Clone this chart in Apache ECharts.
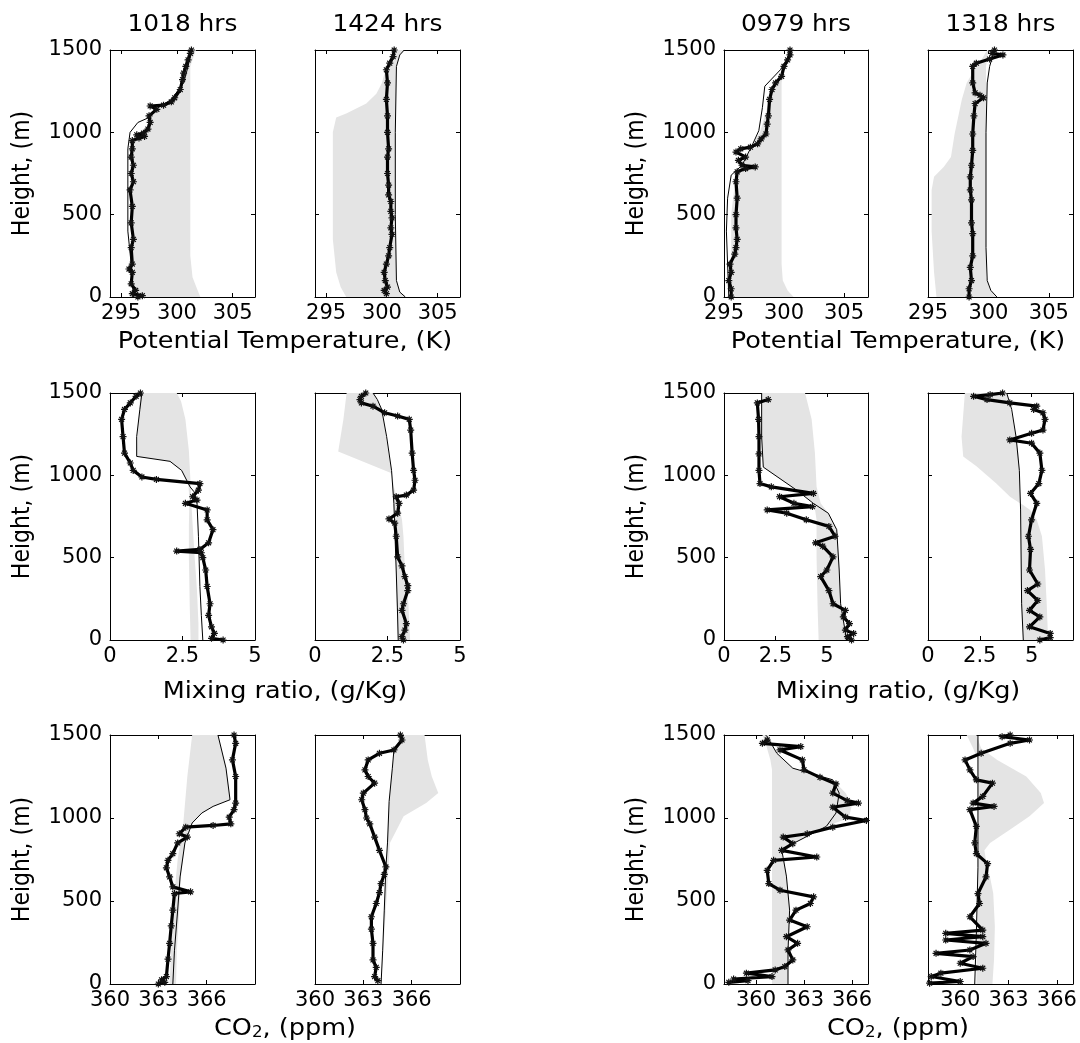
<!DOCTYPE html>
<html><head><meta charset="utf-8">
<script src="https://cdn.jsdelivr.net/npm/echarts@6/dist/echarts.min.js"></script>
<style>html,body{margin:0;padding:0;background:#fff}#c{width:1080px;height:1043px}</style>
</head><body><div id="c"></div>
<script>
// ---------- text / ticks ----------
const titles = ['1018 hrs', '1424 hrs', '0979 hrs', '1318 hrs'];
const xNames = ['Potential Temperature, (K)', 'Mixing ratio, (g/Kg)', 'CO{s|2}, (ppm)'];
const yName = 'Height, (m)';
const heightTicks = [0, 500, 1000, 1500];
const thetaTicks = [295, 300, 305];
const mixTicks = [0, 2.5, 5];
const co2Ticks = [360, 363, 366];

// ---------- Row 1: potential temperature (K) vs height (m) ----------
const th1018Obs = [[296.5,0],[296.9,8],[296.0,20],[296.3,40],[295.9,80],[296.0,150],[295.7,170],[296.0,200],[295.9,300],[296.1,350],[295.9,450],[296.0,550],[295.8,650],[296.1,700],[295.9,750],[296.1,800],[295.9,850],[296.0,900],[296.0,950],[296.6,965],[297.1,975],[296.4,985],[297.0,995],[297.4,1020],[297.6,1060],[297.5,1100],[298.2,1140],[297.6,1160],[298.8,1165],[299.5,1185],[299.8,1210],[300.3,1260],[300.5,1320],[300.6,1360],[300.8,1400],[301.0,1440],[301.2,1480],[301.3,1500]];
const th1018Model = [[296.1,0],[295.9,200],[295.6,400],[295.6,900],[295.8,1000],[296.5,1060],[297.5,1090],[298.3,1150],[299.5,1200],[300.6,1300],[301.0,1400],[301.3,1500]];
const th1018BandL = [[296.1,0],[296.0,950],[296.8,1000],[297.6,1050],[297.8,1120],[299.0,1170],[300.0,1230],[300.5,1300],[300.9,1400],[301.3,1500]];
const th1018BandR = [[302.1,0],[301.8,50],[301.4,120],[301.2,250],[301.2,1400],[301.7,1500]];

const th1424Obs = [[300.4,20],[300.2,40],[300.5,60],[300.3,100],[300.2,150],[300.4,200],[300.6,250],[300.7,300],[300.9,380],[300.8,420],[300.9,480],[300.8,520],[300.8,580],[300.6,620],[300.6,680],[300.5,750],[300.5,850],[300.6,900],[300.5,1000],[300.5,1100],[300.4,1200],[300.5,1300],[300.4,1380],[300.7,1420],[301.0,1460],[301.1,1500]];
const th1424Model = [[302.1,0],[301.6,30],[301.3,100],[301.2,500],[301.2,1000],[301.3,1400],[301.6,1470],[302.0,1500]];
const th1424BandL = [[296.8,0],[296.3,60],[295.9,150],[295.6,350],[295.6,1000],[295.9,1090],[296.8,1115],[298.6,1175],[299.5,1235],[300.0,1300],[300.4,1400],[300.9,1480],[301.0,1500]];
const th1424BandR = [[302.1,0],[301.6,30],[301.3,100],[301.2,500],[301.2,1000],[301.3,1400],[301.6,1470],[302.0,1500]];

const th0979Obs = [[295.6,0],[295.6,50],[295.4,100],[295.6,150],[295.5,200],[295.9,260],[296.0,300],[296.1,350],[296.0,420],[296.0,500],[296.1,600],[296.0,700],[296.1,760],[296.8,780],[297.6,790],[296.5,800],[296.2,830],[296.8,850],[296.0,880],[296.4,900],[297.2,910],[297.8,930],[298.1,960],[298.5,990],[298.6,1050],[298.7,1100],[298.8,1200],[299.0,1260],[299.3,1300],[299.8,1340],[300.0,1400],[300.3,1440],[300.5,1470],[300.5,1500]];
const th0979Model = [[295.4,0],[295.3,200],[295.2,400],[295.3,600],[295.6,740],[296.5,800],[297.4,930],[297.9,1010],[298.2,1150],[298.4,1280],[299.7,1380],[300.3,1450],[300.5,1500]];
const th0979BandL = [[295.6,0],[295.6,500],[296.0,750],[296.6,810],[297.4,930],[298.0,1000],[298.6,1150],[299.3,1300],[300.0,1400],[300.5,1500]];
const th0979BandR = [[300.8,0],[300.3,40],[299.9,100],[299.8,200],[299.8,1300],[300.0,1400],[300.4,1500]];

const th1318Obs = [[298.4,0],[298.4,50],[298.6,100],[298.5,180],[298.7,250],[298.7,385],[298.6,450],[298.6,590],[298.5,650],[298.5,730],[298.6,800],[298.7,890],[298.7,990],[298.8,1100],[298.9,1175],[299.6,1210],[299.3,1225],[298.9,1240],[298.7,1300],[298.7,1400],[299.0,1420],[300.1,1445],[301.2,1470],[300.3,1480],[300.5,1500]];
const th1318Model = [[300.7,0],[300.2,40],[299.9,100],[299.8,300],[299.8,1000],[299.9,1300],[300.1,1400],[300.5,1500]];
const th1318BandL = [[295.7,0],[295.5,150],[295.3,400],[295.3,650],[295.5,730],[296.3,790],[296.9,850],[297.2,990],[297.8,1200],[298.2,1300],[299.0,1400],[299.5,1450],[299.9,1500]];
const th1318BandR = [[300.6,0],[300.1,50],[299.8,120],[299.8,1400],[300.0,1500]];

// ---------- Row 2: mixing ratio (g/Kg) ----------
const mx1018Obs = [[3.9,0],[3.5,10],[3.6,40],[3.5,80],[3.4,150],[3.45,220],[3.35,325],[3.3,425],[3.2,500],[3.15,530],[2.3,540],[3.1,550],[3.4,590],[3.55,670],[3.35,730],[3.35,790],[2.6,830],[3.0,850],[2.85,870],[3.05,910],[3.1,950],[1.6,975],[1.1,990],[0.8,1030],[0.7,1075],[0.5,1135],[0.45,1235],[0.4,1340],[0.5,1400],[0.7,1440],[0.9,1480],[1.05,1500]];
const mx1018Model = [[3.2,0],[3.15,150],[3.1,325],[3.05,630],[3.0,830],[2.9,900],[2.76,930],[2.47,1030],[2.07,1085],[0.92,1115],[0.92,1235],[1.03,1400],[1.1,1500]];
const mx1018BandL = [[2.78,0],[2.75,200],[2.72,500],[2.72,700],[2.74,850],[2.7,950],[2.47,1030],[2.07,1085],[0.92,1115],[0.95,1250],[1.0,1400],[1.05,1500]];
const mx1018BandR = [[3.05,0],[3.05,100],[3.0,300],[2.92,500],[2.85,700],[2.8,850],[2.78,950],[2.72,1150],[2.6,1340],[2.45,1450],[2.3,1500]];

const mx1424Obs = [[3.05,0],[3.0,20],[3.1,60],[3.15,100],[3.0,180],[3.05,220],[3.2,300],[3.2,330],[3.1,385],[3.0,450],[2.85,505],[2.8,630],[2.75,710],[2.55,735],[2.85,770],[2.9,830],[2.8,870],[3.15,880],[3.4,910],[3.45,970],[3.4,1030],[3.35,1135],[3.3,1275],[3.25,1340],[2.85,1360],[2.4,1380],[2.0,1420],[1.6,1440],[1.55,1460],[1.6,1480],[1.75,1500]];
const mx1424Model = [[2.87,0],[2.84,200],[2.8,425],[2.76,630],[2.72,830],[2.64,1030],[2.47,1235],[2.3,1400],[2.15,1460],[2.0,1500]];
const mx1424BandL = [[2.85,0],[2.82,200],[2.78,500],[2.72,800],[2.65,1000],[2.6,1015],[0.8,1145],[0.98,1340],[1.09,1500]];
const mx1424BandR = [[3.28,0],[3.22,220],[3.1,425],[3.05,630],[3.0,730],[2.87,830],[2.72,930],[2.65,1015],[2.53,1135],[2.36,1340],[2.25,1420],[2.0,1500]];

const mx0979Obs = [[6.2,0],[6.0,20],[6.3,40],[5.9,60],[6.1,100],[5.8,140],[5.9,180],[5.3,220],[5.1,300],[4.7,385],[5.0,425],[5.3,505],[4.8,570],[4.45,590],[5.4,630],[5.1,690],[4.0,730],[3.05,770],[2.1,790],[4.3,810],[3.4,830],[2.7,870],[4.35,890],[2.3,930],[1.75,950],[1.7,1030],[1.7,1130],[1.7,1235],[1.68,1340],[1.62,1440],[2.15,1460]];
const mx0979Model = [[5.96,0],[5.67,220],[5.6,425],[5.48,670],[5.07,770],[4.34,830],[3.53,910],[1.91,1050],[1.83,1235],[1.83,1500]];
const mx0979BandL = [[4.6,0],[4.55,200],[4.5,500],[4.5,730],[4.4,810],[4.34,830],[3.53,910],[1.91,1050],[1.83,1235],[1.83,1500]];
const mx0979BandR = [[5.96,0],[5.67,220],[5.6,425],[5.48,670],[5.07,770],[4.7,830],[4.5,930],[4.42,1135],[4.26,1340],[3.94,1500]];

const mx1318Obs = [[5.4,0],[5.9,15],[5.9,40],[4.9,80],[5.4,140],[4.9,180],[5.3,240],[4.8,300],[5.3,340],[4.9,425],[4.95,550],[4.85,630],[5.0,730],[5.25,830],[4.95,890],[5.35,950],[5.5,1030],[5.4,1135],[5.0,1195],[3.95,1215],[5.0,1255],[5.55,1275],[5.65,1340],[5.55,1380],[5.1,1400],[5.25,1420],[3.95,1440],[2.85,1460],[2.2,1480],[3.0,1490],[3.6,1500]];
const mx1318Model = [[4.6,0],[4.52,220],[4.47,790],[4.41,1030],[4.25,1235],[4.04,1400],[3.8,1500]];
const mx1318BandL = [[4.6,0],[4.52,220],[4.48,790],[4.44,830],[3.96,870],[3.3,950],[2.34,1055],[1.7,1115],[1.62,1235],[1.78,1500]];
const mx1318BandR = [[5.8,0],[5.73,220],[5.65,425],[5.5,630],[5.25,730],[4.93,790],[4.47,830],[4.41,1030],[4.36,1135],[4.1,1340],[3.8,1500]];

// ---------- Row 3: CO2 (ppm) ----------
const co1018Obs = [[363.0,0],[363.4,10],[363.2,25],[363.5,45],[363.6,150],[363.7,245],[363.8,350],[363.9,445],[364.0,545],[365.0,555],[363.9,585],[363.7,645],[363.5,700],[363.6,745],[363.9,785],[364.2,850],[364.8,885],[364.3,905],[364.7,945],[366.4,955],[367.5,965],[367.4,1005],[367.7,1050],[367.8,1090],[367.8,1250],[367.6,1350],[367.8,1450],[367.7,1500]];
const co1018Model = [[363.9,0],[364.0,200],[364.2,445],[364.35,645],[364.65,850],[365.1,970],[365.7,1030],[366.4,1070],[367.45,1110],[367.2,1300],[366.7,1500]];
const co1018BandL = [[363.7,0],[363.9,445],[364.2,750],[364.55,970],[364.8,1250],[365.1,1500]];
const co1018BandR = [[364.1,0],[364.15,200],[364.3,445],[364.4,645],[364.65,850],[365.1,970],[365.7,1030],[366.4,1070],[367.45,1110],[367.2,1300],[366.7,1500]];

const co1424Obs = [[363.9,20],[363.7,45],[363.8,100],[363.6,145],[363.6,245],[363.5,330],[363.5,405],[363.8,485],[364.0,550],[364.1,605],[364.3,660],[364.4,705],[364.0,805],[363.7,885],[363.4,965],[363.2,1000],[363.1,1050],[362.9,1110],[363.0,1150],[363.7,1210],[363.3,1250],[363.1,1290],[363.3,1350],[364.0,1390],[364.9,1410],[365.4,1470],[365.3,1500]];
const co1424Model = [[364.1,0],[364.2,200],[364.3,445],[364.4,700],[364.5,850],[364.6,1100],[364.8,1300],[364.9,1410],[365.3,1460],[365.5,1500]];
const co1424BandL = [[364.1,0],[364.2,200],[364.3,445],[364.4,700],[364.5,850],[364.6,1100],[364.8,1300],[364.9,1410],[365.3,1460],[365.5,1500]];
const co1424BandR = [[364.1,0],[364.3,300],[364.5,600],[364.6,765],[364.65,850],[365.5,1010],[366.9,1090],[367.65,1150],[367.25,1250],[367.0,1350],[366.8,1500]];

const co0979Obs = [[358.3,10],[359.5,20],[358.6,30],[361.0,45],[359.4,65],[361.2,85],[361.8,105],[362.3,145],[362.0,205],[362.6,245],[361.9,285],[363.2,345],[362.1,385],[362.5,445],[363.4,485],[363.6,525],[361.5,565],[360.8,605],[360.7,685],[361.1,745],[363.8,765],[361.6,805],[362.3,845],[361.7,885],[363.2,905],[364.8,945],[366.9,985],[365.6,1005],[364.8,1065],[366.4,1090],[365.7,1105],[364.8,1150],[365.0,1205],[364.0,1245],[363.0,1290],[362.9,1350],[361.5,1410],[362.8,1430],[360.4,1450],[360.7,1470]];
const co0979Model = [[362.0,0],[362.0,200],[362.1,445],[361.9,650],[361.7,760],[361.6,810],[363.0,880],[364.4,950],[365.0,1030],[365.2,1150],[364.8,1230],[362.3,1300],[361.3,1390],[360.7,1490],[360.6,1500]];
const co0979BandL = [[361.0,0],[361.0,1290],[360.9,1350],[360.6,1450],[360.4,1500]];
const co0979BandR = [[362.0,0],[362.0,200],[362.1,445],[361.9,650],[361.7,760],[361.6,810],[363.0,880],[364.4,950],[365.8,1000],[366.0,1080],[365.6,1150],[364.8,1230],[362.3,1300],[361.3,1390],[360.8,1500]];

const co1318Obs = [[358.1,5],[360.0,15],[358.2,45],[358.8,65],[361.4,95],[360.0,125],[360.8,165],[358.5,185],[360.6,205],[361.6,245],[359.1,265],[361.4,285],[359.1,305],[361.4,325],[360.6,405],[361.2,485],[361.1,545],[361.6,645],[361.7,725],[361.0,785],[360.9,850],[361.0,950],[360.6,1050],[362.1,1070],[360.8,1090],[361.4,1130],[362.0,1210],[361.0,1230],[360.6,1290],[360.3,1350],[361.3,1390],[363.1,1450],[364.3,1470],[362.6,1490],[363.1,1500]];
const co1318Model = [[360.9,0],[361.0,300],[361.1,700],[361.1,1350],[361.1,1500]];
const co1318BandL = [[361.0,0],[361.05,300],[361.1,700],[361.1,1350],[360.8,1420],[360.4,1500]];
const co1318BandR = [[362.0,0],[362.1,150],[362.15,345],[362.05,545],[361.85,645],[361.6,745],[361.5,805],[361.85,850],[363.1,930],[364.3,1010],[365.2,1090],[365.0,1150],[364.1,1250],[362.3,1350],[361.3,1420],[361.0,1500]];

// ---------- layout ----------
const FONT = '"DejaVu Sans", "Liberation Sans", Arial, sans-serif';
const colPos = [[110,145],[315,145],[724,144],[928,145]];
const rowPos = [[50,247],[393,247],[735,249]];
const rowNameY = [342, 692, 1029];
const pairCenter = [285, 898];

const panels = [
  {r:0,c:0,xr:[294,307],ticks:thetaTicks,obs:th1018Obs,model:th1018Model,bl:th1018BandL,br:th1018BandR},
  {r:0,c:1,xr:[294,307],ticks:thetaTicks,obs:th1424Obs,model:th1424Model,bl:th1424BandL,br:th1424BandR},
  {r:0,c:2,xr:[295,307],ticks:thetaTicks,obs:th0979Obs,model:th0979Model,bl:th0979BandL,br:th0979BandR},
  {r:0,c:3,xr:[295,307],ticks:thetaTicks,obs:th1318Obs,model:th1318Model,bl:th1318BandL,br:th1318BandR},
  {r:1,c:0,xr:[0,5],ticks:mixTicks,obs:mx1018Obs,model:mx1018Model,bl:mx1018BandL,br:mx1018BandR},
  {r:1,c:1,xr:[0,5],ticks:mixTicks,obs:mx1424Obs,model:mx1424Model,bl:mx1424BandL,br:mx1424BandR},
  {r:1,c:2,xr:[0,7],ticks:mixTicks,obs:mx0979Obs,model:mx0979Model,bl:mx0979BandL,br:mx0979BandR},
  {r:1,c:3,xr:[0,7],ticks:mixTicks,obs:mx1318Obs,model:mx1318Model,bl:mx1318BandL,br:mx1318BandR},
  {r:2,c:0,xr:[360,369],ticks:co2Ticks,obs:co1018Obs,model:co1018Model,bl:co1018BandL,br:co1018BandR},
  {r:2,c:1,xr:[360,369],ticks:co2Ticks,obs:co1424Obs,model:co1424Model,bl:co1424BandL,br:co1424BandR},
  {r:2,c:2,xr:[358,367],ticks:co2Ticks,obs:co0979Obs,model:co0979Model,bl:co0979BandL,br:co0979BandR},
  {r:2,c:3,xr:[358,367],ticks:co2Ticks,obs:co1318Obs,model:co1318Model,bl:co1318BandL,br:co1318BandR}
];

const grid = [], xAxis = [], yAxis = [], series = [];
const axLine = {show:true, onZero:false, lineStyle:{color:'#000', width:1}};
const ASTER = 'path://M0,5L10,5M5,0L5,10M1.5,1.5L8.5,8.5M8.5,1.5L1.5,8.5';
const plain = v => String(v);

panels.forEach((p, i) => {
  const [left, width] = colPos[p.c];
  const [top, height] = rowPos[p.r];
  grid.push({left, top, width, height});
  const xt = {show:true, inside:true, length:4, lineStyle:{color:'#000'}, customValues:p.ticks};
  const yt = {show:true, inside:true, length:4, lineStyle:{color:'#000'}, customValues:heightTicks};
  xAxis.push({gridIndex:i, type:'value', position:'bottom', min:p.xr[0], max:p.xr[1],
    axisLine:axLine, axisTick:xt, splitLine:{show:false},
    axisLabel:{show:true, customValues:p.ticks, formatter:plain, margin:6, color:'#000', fontSize:21, fontFamily:FONT}});
  xAxis.push({gridIndex:i, type:'value', position:'top', min:p.xr[0], max:p.xr[1],
    axisLine:axLine, axisTick:xt, splitLine:{show:false}, axisLabel:{show:false}});
  const showY = (p.c === 0 || p.c === 2);
  yAxis.push({gridIndex:i, type:'value', position:'left', min:0, max:1500,
    axisLine:axLine, axisTick:yt, splitLine:{show:false},
    axisLabel:{show:showY, customValues:heightTicks, formatter:plain, margin:8, color:'#000', fontSize:21, fontFamily:FONT}});
  yAxis.push({gridIndex:i, type:'value', position:'right', min:0, max:1500,
    axisLine:axLine, axisTick:yt, splitLine:{show:false}, axisLabel:{show:false}});

  const ring = p.bl.concat(p.br.slice().reverse());
  series.push({type:'custom', xAxisIndex:2*i, yAxisIndex:2*i, data:ring, clip:true, silent:true, z:1,
    renderItem: function (params, api) {
      if (params.dataIndex !== 0) return null;
      const pts = ring.map(q => api.coord(q));
      return {type:'polygon', shape:{points:pts}, style:{fill:'#e4e4e4', stroke:null}};
    }});
  series.push({type:'line', xAxisIndex:2*i, yAxisIndex:2*i, data:p.model, showSymbol:false,
    lineStyle:{color:'#000', width:1}, z:2, silent:true, clip:true});
  series.push({type:'line', xAxisIndex:2*i, yAxisIndex:2*i, data:p.obs, symbol:ASTER, symbolSize:7,
    showAllSymbol:true, lineStyle:{color:'#000', width:3.2},
    itemStyle:{color:'#000', borderColor:'#111', borderWidth:1.2}, z:3, silent:true, clip:true});
});

const graphic = [];
titles.forEach((t, i) => {
  graphic.push({type:'text', x: colPos[i][0] + colPos[i][1] / 2, y: 25, scaleX: 1.08,
    style:{text:t, font:'23px ' + FONT, fill:'#000', align:'center', verticalAlign:'middle', textAlign:'center', textVerticalAlign:'middle'}});
});
rowPos.forEach((rp, r) => {
  [0, 2].forEach(c => {
    graphic.push({type:'text', x: colPos[c][0] - 87, y: rp[0] + rp[1] / 2, rotation: Math.PI / 2, scaleY: 1.1,
      style:{text:yName, font:'22px ' + FONT, fill:'#000', align:'center', verticalAlign:'middle', textAlign:'center', textVerticalAlign:'middle'}});
  });
  pairCenter.forEach(cx => {
    graphic.push({type:'text', x: cx, y: rowNameY[r], scaleX: 1.11,
      style:{text:xNames[r], font:'23px ' + FONT, fill:'#000', align:'center', verticalAlign:'middle', textAlign:'center', textVerticalAlign:'middle',
        rich:{s:{font:'15px ' + FONT, fill:'#000', verticalAlign:'bottom', padding:[0,0,0,0]}}}});
  });
});

const chart = echarts.init(document.getElementById('c'), null, {renderer:'canvas'});
chart.setOption({animation:false, backgroundColor:'#fff', grid, xAxis, yAxis, series, graphic});
</script></body></html>
